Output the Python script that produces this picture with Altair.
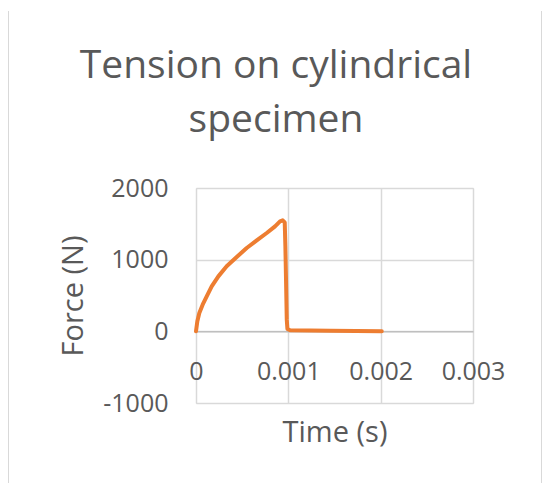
import altair as alt
import pandas as pd

# Data
time_s = [0.0, 0.0000145, 0.000036, 0.000072, 0.000116, 0.000170, 0.000242, 0.000332,
          0.000441, 0.000549, 0.000658, 0.000766, 0.000856, 0.000910, 0.000939, 0.000961,
          0.000968, 0.000975, 0.000983, 0.000990, 0.001019, 0.001452, 0.002012]
force_n = [0, 140, 256, 372, 488, 628, 767, 907,
           1037, 1163, 1270, 1372, 1465, 1535, 1549, 1521,
           1186, 721, 163, 33, 14, 9, 2]
x_ticks = [0, 0.001, 0.002, 0.003]
y_ticks = [-1000, 0, 1000, 2000]

title_lines = ["Tension on cylindrical", "specimen"]
x_title = "Time (s)"
y_title = "Force (N)"

df = pd.DataFrame({"t": time_s, "F": force_n, "order": range(len(time_s))})

TEXT = "#595959"
GRID = "#d9d9d9"
FONT = "Open Sans"
W, H = 277, 215
zero_offset = -H * (0 - (-1000)) / 3000.0  # shift x axis to the y=0 line

x_enc = alt.X(
    "t:Q",
    scale=alt.Scale(domain=[0, 0.003], nice=False, zero=False),
    axis=alt.Axis(
        values=x_ticks, format=".3~f", offset=zero_offset,
        domain=True, domainColor="#bfbfbf", domainWidth=1.5,
        ticks=False, grid=True, gridColor=GRID, gridWidth=1.5,
        labelFont=FONT, labelFontSize=25, labelColor=TEXT,
        labelBaseline="alphabetic", labelPadding=48,
        labelFlush=False, labelOverlap=False,
        title=x_title, titleFont=FONT, titleFontSize=29, titleFontWeight="normal",
        titleColor=TEXT, titleY=110, titleBaseline="alphabetic",
    ),
)
y_enc = alt.Y(
    "F:Q",
    scale=alt.Scale(domain=[-1000, 2000], nice=False, zero=False),
    axis=alt.Axis(
        values=y_ticks, labelExpr="'' + datum.value",
        domain=False, ticks=False, grid=True, gridColor=GRID, gridWidth=1.5,
        labelFont=FONT, labelFontSize=25, labelColor=TEXT, labelPadding=28,
        labelFlush=False, labelOverlap=False,
        title=y_title, titleFont=FONT, titleFontSize=29, titleFontWeight="normal",
        titleColor=TEXT, titleX=-114, titleY=H / 2, titleBaseline="alphabetic",
        titleAngle=270,
    ),
)

line = alt.Chart(df).mark_line(
    color="#ED7D31", strokeWidth=4, strokeCap="round", strokeJoin="round"
).encode(x=x_enc, y=y_enc, order="order:Q")

title_df = pd.DataFrame({"line": title_lines, "idx": [0, 1]})
title1 = alt.Chart(title_df.iloc[[0]]).mark_text(
    font=FONT, fontSize=39, color=TEXT, align="center", baseline="alphabetic"
).encode(text="line:N", x=alt.value(80), y=alt.value(-110))
title2 = alt.Chart(title_df.iloc[[1]]).mark_text(
    font=FONT, fontSize=39, color=TEXT, align="center", baseline="alphabetic"
).encode(text="line:N", x=alt.value(80), y=alt.value(-56))

border_left = alt.Chart(df.iloc[[0]]).mark_rule(color=GRID, strokeWidth=2).encode(
    x=alt.value(-188), y=alt.value(-177), y2=alt.value(300)
)
border_right = alt.Chart(df.iloc[[0]]).mark_rule(color=GRID, strokeWidth=2).encode(
    x=alt.value(346), y=alt.value(-177), y2=alt.value(300)
)

chart = alt.layer(line, title1, title2, border_left, border_right).properties(
    width=W,
    height=H,
    autosize=alt.AutoSizeParams(type="none"),
    padding={"left": 188, "top": 180, "right": 69, "bottom": 80},
).configure_view(stroke=None).configure(background="white")

chart.save("out.html", embed_options={"renderer": "svg", "actions": False})
